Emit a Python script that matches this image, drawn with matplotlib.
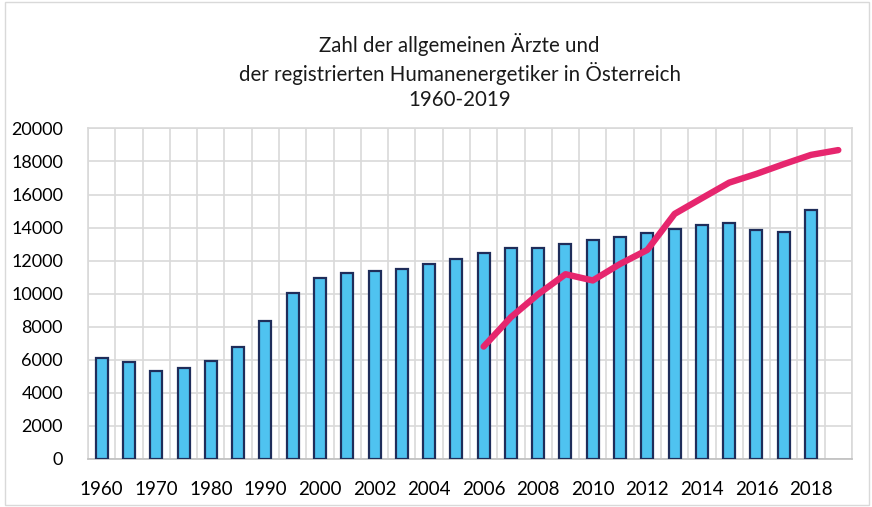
import matplotlib
matplotlib.use("Agg")
import matplotlib.pyplot as plt
from matplotlib.patches import Rectangle
import numpy as np

years = ["1960", "1965", "1970", "1975", "1980", "1985", "1990", "1995",
         "2000", "2001", "2002", "2003", "2004", "2005", "2006", "2007",
         "2008", "2009", "2010", "2011", "2012", "2013", "2014", "2015",
         "2016", "2017", "2018", "2019"]
aerzte = [6130, 5870, 5310, 5510, 5950, 6780, 8350, 10070,
          10940, 11240, 11360, 11500, 11790, 12090, 12490, 12750,
          12750, 13000, 13240, 13440, 13680, 13940, 14140, 14290,
          13860, 13740, 15050, None]
humanenergetiker = [None] * 14 + [6800, 8580, 9970, 11180, 10800, 11800, 12650,
                                  14830, 15780, 16720, 17250, 17840, 18400, 18690]
tick_labels = ["1960", "1970", "1980", "1990", "2000", "2002", "2004", "2006",
               "2008", "2010", "2012", "2014", "2016", "2018"]

plt.rcParams['font.family'] = ['Lato', 'DejaVu Sans']

fig = plt.figure(figsize=(8.72, 5.07), dpi=100)
ax = fig.add_axes([0.101, 0.0947, 0.876, 0.652])

bar_x = [i for i, v in enumerate(aerzte) if v is not None]
bar_v = [v for v in aerzte if v is not None]
ax.bar(bar_x, bar_v, width=0.44, color="#4FC3F0", edgecolor="#1F2D5A",
       linewidth=1.6, zorder=3)

lx = [i for i, v in enumerate(humanenergetiker) if v is not None]
lv = [v for v in humanenergetiker if v is not None]
ax.plot(lx, lv, color="#E6266E", linewidth=4.6, solid_capstyle="round",
        solid_joinstyle="round", zorder=4)

ax.set_xlim(-0.5, len(years) - 0.5)
ax.set_ylim(0, 20000)
ax.set_yticks(np.arange(0, 20001, 2000))
ax.set_yticklabels([str(v) for v in range(0, 20001, 2000)], fontsize=13)
ax.set_xticks(np.arange(0, len(years), 2))
ax.set_xticklabels(tick_labels, fontsize=13.5)
ax.set_xticks(np.arange(-0.5, len(years), 1), minor=True)
ax.tick_params(axis='x', length=0, pad=16)
ax.tick_params(axis='y', length=0, pad=18)
ax.tick_params(axis='x', which='minor', length=0)
ax.grid(True, axis='y', color="#D9D9D9", linewidth=1.2, zorder=0)
ax.grid(True, axis='x', which='minor', color="#D9D9D9", linewidth=1.2, zorder=0)
ax.grid(False, axis='x', which='major')
for s in ['top', 'left', 'right']:
    ax.spines[s].set_color("#D9D9D9")
    ax.spines[s].set_linewidth(1.2)
ax.spines['bottom'].set_color("#BFBFBF")
ax.spines['bottom'].set_linewidth(1.2)

fig.text(0.527, 0.859, "Zahl der allgemeinen Ärzte und\nder registrierten Humanenergetiker in Österreich\n1960-2019",
         ha="center", va="center", fontsize=14.8, linespacing=1.33, color="#1a1a1a")

fig.patches.append(Rectangle((0.006, 0.004), 0.99, 0.992, transform=fig.transFigure,
                             fill=False, edgecolor="#D9D9D9", linewidth=1.0))

fig.savefig("out.png", dpi=100, facecolor="white")
